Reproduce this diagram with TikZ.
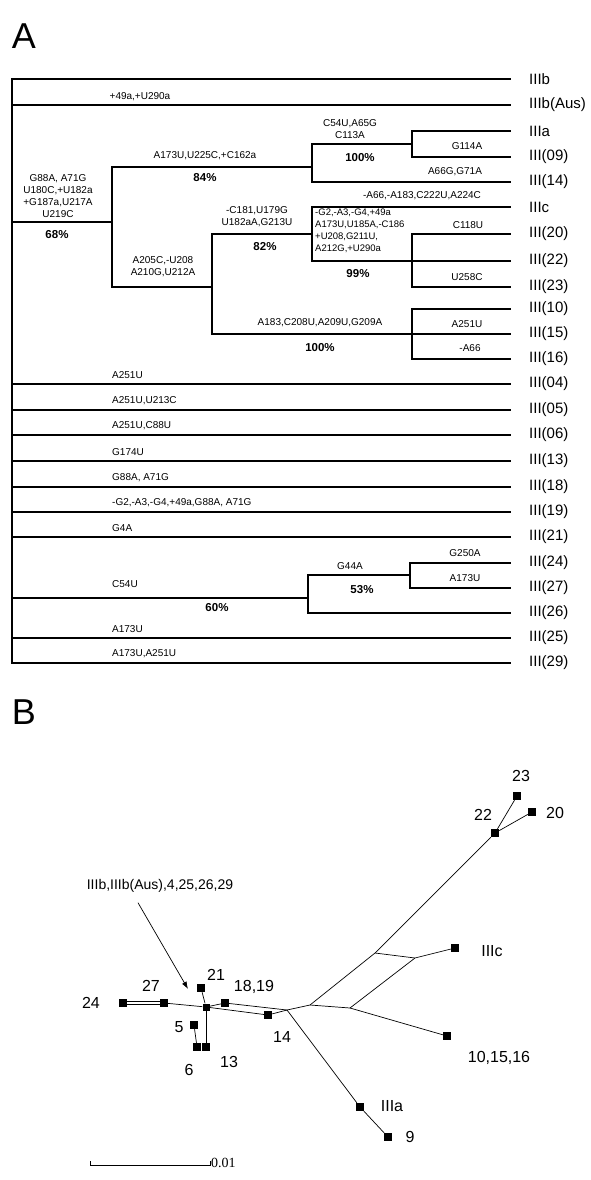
\documentclass[tikz,border=0pt]{standalone}
\usepackage{fontspec}
\setmainfont{Liberation Sans}
\newfontfamily\barfont{Liberation Serif}
\usetikzlibrary{arrows.meta,calc,positioning}
\tikzset{
  branch/.style={line width=2.4pt, line cap=rect},
  leaf/.style={anchor=west, inner xsep=19pt, inner ysep=1pt, font=\fontsize{15}{15}\selectfont},
  mut/.style={align=center, inner sep=1pt, font=\fontsize{10}{12}\selectfont},
  mutl/.style={mut, anchor=west, align=left},
  pct/.style={inner sep=1pt, font=\fontsize{11.5}{12}\selectfont\bfseries},
  panel/.style={inner sep=0pt, font=\fontsize{36}{36}\selectfont},
  edge/.style={line width=0.7pt},
  hap/.style={rectangle, fill=black, minimum size=8pt, inner sep=0pt},
  haplab/.style={inner sep=1pt, font=\fontsize{16}{16}\selectfont},
  pointer/.style={-{Latex[length=2.6mm,width=1.8mm]}, line width=0.7pt}
}

\begin{document}
\begin{tikzpicture}[x=1pt,y=-1pt]
  \useasboundingbox (0,0) rectangle (590,1180);
  % ---- A: tree ----
  \node[panel] (lblA) at (24,36) {A};
  \coordinate (root) at (12,222);
  \coordinate (n68) at (112,222);
  \coordinate (n84) at (312,167);
  \coordinate (n100a) at (412,144);
  \coordinate (nA) at (212,287);
  \coordinate (n82) at (312,234);
  \coordinate (n99) at (412,261);
  \coordinate (n100b) at (412,334);
  \coordinate (n60) at (308,598);
  \coordinate (n53) at (410,575);
  \foreach \nm/\y/\txt in {lb/79/IIIb, lbaus/105/IIIb(Aus), la/131/IIIa, l09/157/III(09),
      l14/182/III(14), lc/207/IIIc, l20/234/III(20), l22/261/III(22), l23/287/III(23),
      l10/309/III(10), l15/334/III(15), l16/359/III(16), l04/384/III(04), l05/410/III(05),
      l06/435/III(06), l13/461/III(13), l18/487/III(18), l19/512/III(19), l21/537/III(21),
      l24/563/III(24), l27/588/III(27), l26/613/III(26), l25/638/III(25), l29/663/III(29)}
    \node[leaf] (\nm) at (510,\y) {\txt};
  % edges to leaves
  \foreach \p/\c in {root/lb, root/lbaus, root/l04, root/l05, root/l06, root/l13, root/l18,
      root/l19, root/l21, root/l25, root/l29, n84/l14, n100a/la, n100a/l09, n82/lc,
      n99/l20, n99/l22, n99/l23, n100b/l10, n100b/l15, n100b/l16, n60/l26, n53/l24, n53/l27}
    \draw[branch] (\p) |- (\c.west);
  % edges between clades
  \foreach \p/\c in {root/n68, root/n60, n68/n84, n68/nA, n84/n100a, nA/n82, nA/n100b,
      n82/n99, n60/n53}
    \draw[branch] (\p) |- (\c);
  % changes and support
  \node[mut] (mAus) at (140,97) {+49a,+U290a};
  \node[mut] (mRoot) at (58,196) {G88A, A71G\\U180C,+U182a\\+G187a,U217A\\U219C};
  \node[pct] (p68) at (57,235) {68\%};
  \node[mut] (m84) at (205,156) {A173U,U225C,+C162a};
  \node[pct] (p84) at (205,178) {84\%};
  \node[mut] (m100a) at (350,129) {C54U,A65G\\C113A};
  \node[pct] (p100a) at (360,158) {100\%};
  \node[mut] (m09) at (467,146) {G114A};
  \node[mut] (m14) at (455,172) {A66G,G71A};
  \node[mut] (mA) at (163,267) {A205C,-U208\\A210G,U212A};
  \node[mut] (m82) at (257,217) {-C181,U179G\\U182aA,G213U};
  \node[pct] (p82) at (265,247) {82\%};
  \node[mut] (mc) at (422,196) {-A66,-A183,C222U,A224C};
  \node[mutl, anchor=north west, font=\fontsize{9.5}{12}\selectfont] (m99) at (314,208)
    {-G2,-A3,-G4,+49a\\A173U,U185A,-C186\\+U208,G211U,\\A212G,+U290a};
  \node[pct] (p99) at (358,274) {99\%};
  \node[mut] (m20) at (468,225) {C118U};
  \node[mut] (m23) at (467,277) {U258C};
  \node[mut] (m100b) at (320,323) {A183,C208U,A209U,G209A};
  \node[pct] (p100b) at (320,348) {100\%};
  \node[mut] (m15) at (467,324) {A251U};
  \node[mut] (m16) at (470,348) {-A66};
  \node[mutl] (m04) at (111,375) {A251U};
  \node[mutl] (m05) at (111,401) {A251U,U213C};
  \node[mutl] (m06) at (111,426) {A251U,C88U};
  \node[mutl] (m13) at (111,452) {G174U};
  \node[mutl] (m18) at (111,478) {G88A, A71G};
  \node[mutl] (m19) at (111,503) {-G2,-A3,-G4,+49a,G88A, A71G};
  \node[mutl] (m21) at (111,528) {G4A};
  \node[mutl] (m60) at (111,584) {C54U};
  \node[pct] (p60) at (217,608) {60\%};
  \node[mut] (m53) at (350,566) {G44A};
  \node[pct] (p53) at (362,590) {53\%};
  \node[mut] (m24) at (465,553) {G250A};
  \node[mut] (m27) at (465,578) {A173U};
  \node[mutl] (m25) at (111,629) {A173U};
  \node[mutl] (m29) at (111,654) {A173U,A251U};

  % ---- B: network ----
  \node[panel] (lblB) at (24,712) {B};
  \node[hap] (h24) at (123,1003) {};
  \node[hap] (h27) at (164,1003) {};
  \node[hap, minimum size=7pt] (hub) at (206,1007) {};
  \node[hap] (h21) at (201,988) {};
  \node[hap] (h1819) at (225,1003) {};
  \node[hap] (h5) at (194,1025) {};
  \node[hap] (h6) at (197,1047) {};
  \node[hap] (h13) at (206,1047) {};
  \node[hap] (h14) at (268,1015) {};
  \node[hap] (h22) at (495,833) {};
  \node[hap] (h23) at (517,796) {};
  \node[hap] (h20) at (532,812) {};
  \node[hap] (hIIIc) at (455,948) {};
  \node[hap] (h101516) at (447,1036) {};
  \node[hap] (hIIIa) at (360,1107) {};
  \node[hap] (h9) at (388,1137) {};
  \coordinate (j1) at (287,1010);
  \coordinate (j2) at (310,1005);
  \coordinate (j3) at (350,1008);
  \coordinate (j4) at (375,953);
  \coordinate (j5) at (415,958);
  \draw[edge] ([yshift=1.3pt]h24.center) -- ([yshift=1.3pt]h27.center);
  \draw[edge] ([yshift=-1.3pt]h24.center) -- ([yshift=-1.3pt]h27.center);
  \draw[edge] (h27) -- (hub);
  \draw[edge] (hub) -- (h21);
  \draw[edge] (hub.center) -- (h13.center);
  \draw[edge] (h5) -- (h6);
  \draw[edge] (hub) -- (h1819) -- (j1);
  \draw[edge] (hub) -- (h14) -- (j1);
  \draw[edge] (j1) -- (j2) -- (j3) -- (h101516);
  \draw[edge] (j1) -- (hIIIa) -- (h9);
  \draw[edge] (j2) -- (j4) -- (h22);
  \draw[edge] (h22) -- (h23);
  \draw[edge] (h22) -- (h20);
  \draw[edge] (j3) -- (j5) -- (hIIIc);
  \draw[edge] (j4) -- (j5);
  \node[haplab] (t24) at (91,1003) {24};
  \node[haplab] (t27) at (151,986) {27};
  \node[haplab] (t21) at (216,975) {21};
  \node[haplab] (t1819) at (254,987) {18,19};
  \node[haplab] (t5) at (179,1027) {5};
  \node[haplab] (t6) at (189,1070) {6};
  \node[haplab] (t13) at (229,1062) {13};
  \node[haplab] (t14) at (282,1037) {14};
  \node[haplab] (t22) at (483,815) {22};
  \node[haplab] (t23) at (521,776) {23};
  \node[haplab] (t20) at (555,813) {20};
  \node[haplab] (tIIIc) at (492,951) {IIIc};
  \node[haplab] (t101516) at (499,1058) {10,15,16};
  \node[haplab] (tIIIa) at (392,1106) {IIIa};
  \node[haplab] (t9) at (410,1137) {9};
  \node[haplab, font=\fontsize{14}{14}\selectfont] (ptr) at (160,886) {IIIb,IIIb(Aus),4,25,26,29};
  \coordinate (ptip) at (188,989);
  \draw[pointer] ([xshift=-22pt,yshift=-9pt]ptr.south) -- (ptip);
  % scale bar
  \coordinate (sbL) at (90,1165);
  \coordinate (sbR) at (210,1165);
  \draw[edge] ([yshift=4pt]sbL) -- (sbL) -- (sbR) -- ([yshift=4pt]sbR);
  \node[anchor=west, inner sep=1pt, font=\barfont\fontsize{14}{14}\selectfont] (sbtxt)
    at ([yshift=2pt]sbR) {0.01};
\end{tikzpicture}
\end{document}
